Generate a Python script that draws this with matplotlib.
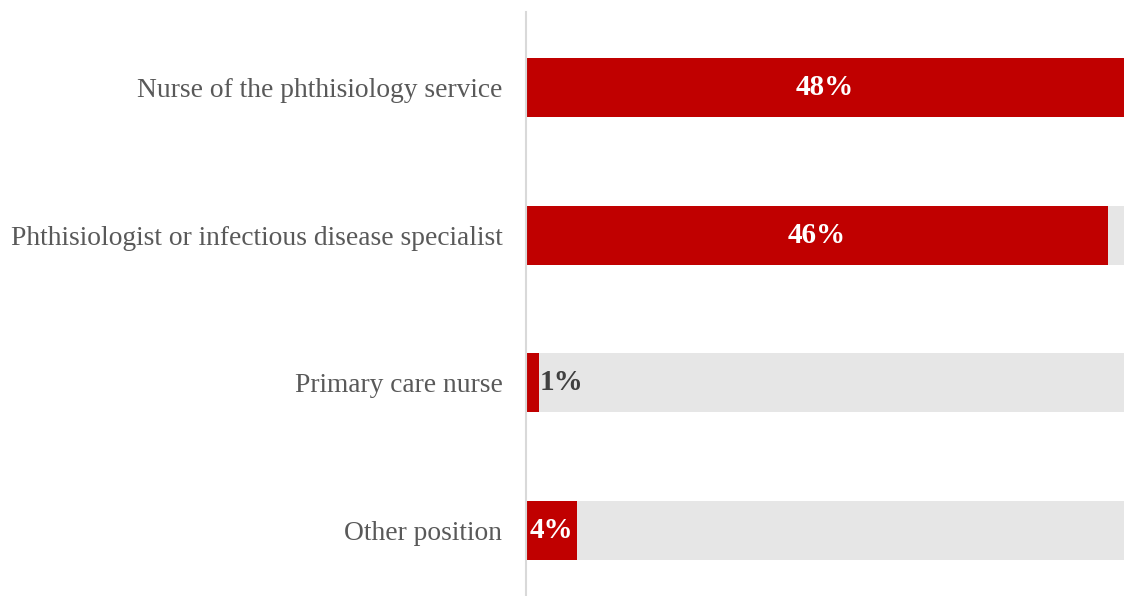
import numpy as np
import matplotlib.pyplot as plt

categories = ["Nurse of the phthisiology service",
              "Phthisiologist or infectious disease specialist",
              "Primary care nurse",
              "Other position"]
values = [48, 46, 1, 4]
xmax = 47.3

plt.rcParams['font.family'] = ['Liberation Serif', 'DejaVu Serif']

fig = plt.figure(figsize=(11.24, 5.96), dpi=100)
ax = fig.add_axes([0.468, 0.0, 0.532, 0.98])

y = np.arange(len(categories))
ax.barh(y, [xmax] * len(y), height=0.4, color='#E6E6E6')
ax.barh(y, values, height=0.4, color='#C00000')

for yi, v in zip(y, values):
    if v >= 3:
        ax.text(min(v, xmax) / 2, yi, f"{v}%", ha='center', va='center',
                color='white', fontsize=21, fontweight='bold')
    else:
        ax.text(v + 0.05, yi, f"{v}%", ha='left', va='center',
                color='#404040', fontsize=21, fontweight='bold')

ax.set_xlim(0, xmax)
ax.set_ylim(3.443, -0.511)
ax.set_yticks(y)
ax.set_yticklabels(categories, fontsize=19.8, color='#595959')
ax.tick_params(axis='y', length=0, pad=17)
ax.set_xticks([])
for s in ['top', 'right', 'bottom']:
    ax.spines[s].set_visible(False)
ax.spines['left'].set_color('#D9D9D9')
ax.spines['left'].set_linewidth(1.5)

fig.savefig('out.png', dpi=100)
